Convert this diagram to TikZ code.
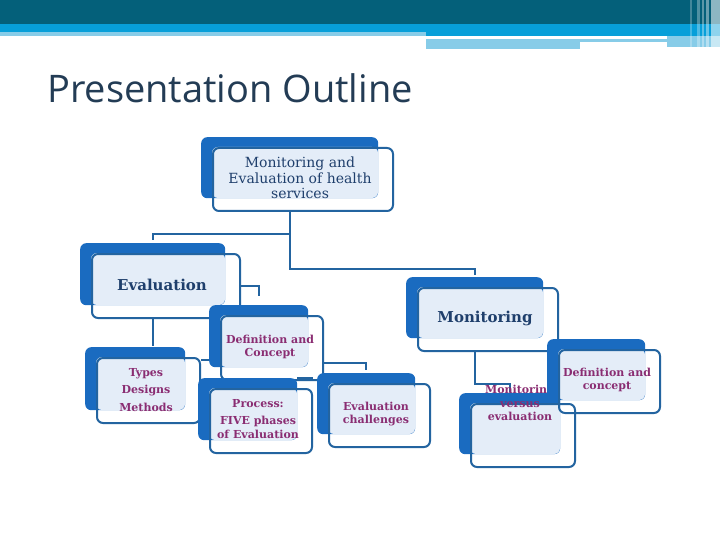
\documentclass[tikz,border=0pt]{standalone}
\usepackage{fontspec}
\usepackage{tikz}
\usetikzlibrary{backgrounds}
\newfontfamily\boxfont{DejaVu Serif}
\newfontfamily\titlefont{Open Sans}

\definecolor{barteal}{HTML}{04607A}
\definecolor{barblue}{HTML}{079FD9}
\definecolor{barpale}{HTML}{87CCE8}
\definecolor{backblue}{HTML}{1A6BC0}
\definecolor{paleblue}{HTML}{E4EDF8}
\definecolor{rimblue}{HTML}{2364A0}
\definecolor{navytext}{HTML}{1F3F6C}
\definecolor{plumtext}{HTML}{8A2D72}
\definecolor{titlegray}{HTML}{233C55}

\tikzset{
  backbox/.style={fill=backblue, rounded corners=6pt, inner sep=0pt, anchor=north west},
  rimbox/.style={draw=rimblue, line width=2pt, rounded corners=6pt, inner sep=0pt, anchor=north west},
  link/.style={draw=rimblue, line width=2pt},
  toptext/.style={text=navytext, align=center, font=\boxfont\fontsize{14}{15.5}\selectfont},
  bigtext/.style={text=navytext, align=center, font=\boxfont\bfseries\fontsize{15}{17}\selectfont},
  subtext/.style={text=plumtext, align=center, font=\boxfont\bfseries\fontsize{11}{13.5}\selectfont},
}

\begin{document}
\begin{tikzpicture}[x=1pt, y=-1pt]
  \useasboundingbox (0,0) rectangle (720,540);

  % header bars
  \fill[barteal] (0,0) rectangle (720,24);
  \fill[barblue] (0,24) rectangle (720,32);
  \fill[barblue] (426,32) rectangle (720,36);
  \fill[barpale] (0,32) rectangle (426,36);
  \fill[barpale] (426,39) rectangle (667,42);
  \fill[barpale] (426,42) rectangle (580,49);
  \fill[barpale] (667,36) rectangle (720,47);
  \foreach \sx/\sw/\op in {690/2/.25, 697/3/.3, 702/2/.35, 706/3/.4, 711/9/.55}{
    \fill[white, opacity=\op] (\sx,0) rectangle (\sx+\sw,49);
  }

  \node[anchor=base west, inner sep=0pt, text=titlegray,
        font=\titlefont\fontsize{38}{40}\selectfont] (title) at (47,103) {Presentation Outline};

  % boxes: name / back corners / text centre / style / text
  \foreach \n/\xa/\ya/\xb/\yb/\tx/\ty/\sty/\txt in {
      top/201/137/378/198/300/178/toptext/{Monitoring and\\Evaluation of health\\services},
      eval/80/243/225/305/162/285/bigtext/{Evaluation},
      moni/406/277/543/338/485/318/bigtext/{Monitoring},
      edef/209/305/308/367/270/347/subtext/{Definition and\\Concept},
      types/85/347/185/410/146/390/subtext/{Types\\[4pt]Designs\\[4pt]Methods},
      proc/198/378/297/440/258/419/subtext/{Process:\\[4pt]FIVE phases\\of Evaluation},
      chall/317/373/415/434/376/414/subtext/{Evaluation\\challenges},
      mve/459/393/560/454/520/403/subtext/{Monitoring\\versus\\evaluation},
      mdef/547/339/645/400/607/380/subtext/{Definition and\\concept}}{
    \node[backbox, minimum width={(\xb-\xa)*1pt}, minimum height={(\yb-\ya)*1pt}] (\n-back) at (\xa,\ya) {};
    \fill[paleblue, rounded corners=6pt] (\xa+11,\ya+10) rectangle (\xb,\yb);
    \node[rimbox, minimum width={(\xb-\xa+3)*1pt}, minimum height={(\yb-\ya+2)*1pt}] (\n-rim) at (\xa+11,\ya+10) {};
    \node[\sty] (\n-text) at (\tx,\ty) {\txt};
  }

  \begin{scope}[on background layer]
    \fill[white] (0,0) rectangle (720,540);
    \draw[link] (top-back.south |- top-rim.south) -- ++(0,22) -| ([yshift=3pt]eval-back.north);
    \draw[link] (top-back.south |- top-rim.south) -- ++(0,57) -| ([yshift=2pt]moni-back.north);
    \draw[link] (eval-back.south |- eval-rim.south) -- ([yshift=1pt]eval-back.south |- types-back.north);
    \draw[link] (eval-rim.east) -| ([yshift=9pt]edef-back.north);
    \draw[link] ([yshift=-3pt]types-rim.north east) coordinate (tp) -- (tp -| edef-back.west);
    \draw[link] ([yshift=-15pt]edef-rim.east) -| ([yshift=3pt]chall-back.north);
    \draw[link] (proc-back.north east) -- ([xshift=-4pt]proc-back.north east -| chall-back.west);
    \draw[link] (moni-back.south |- moni-rim.south) -- ++(0,32) -| ([yshift=1pt]mve-back.north);
  \end{scope}
\end{tikzpicture}
\end{document}
